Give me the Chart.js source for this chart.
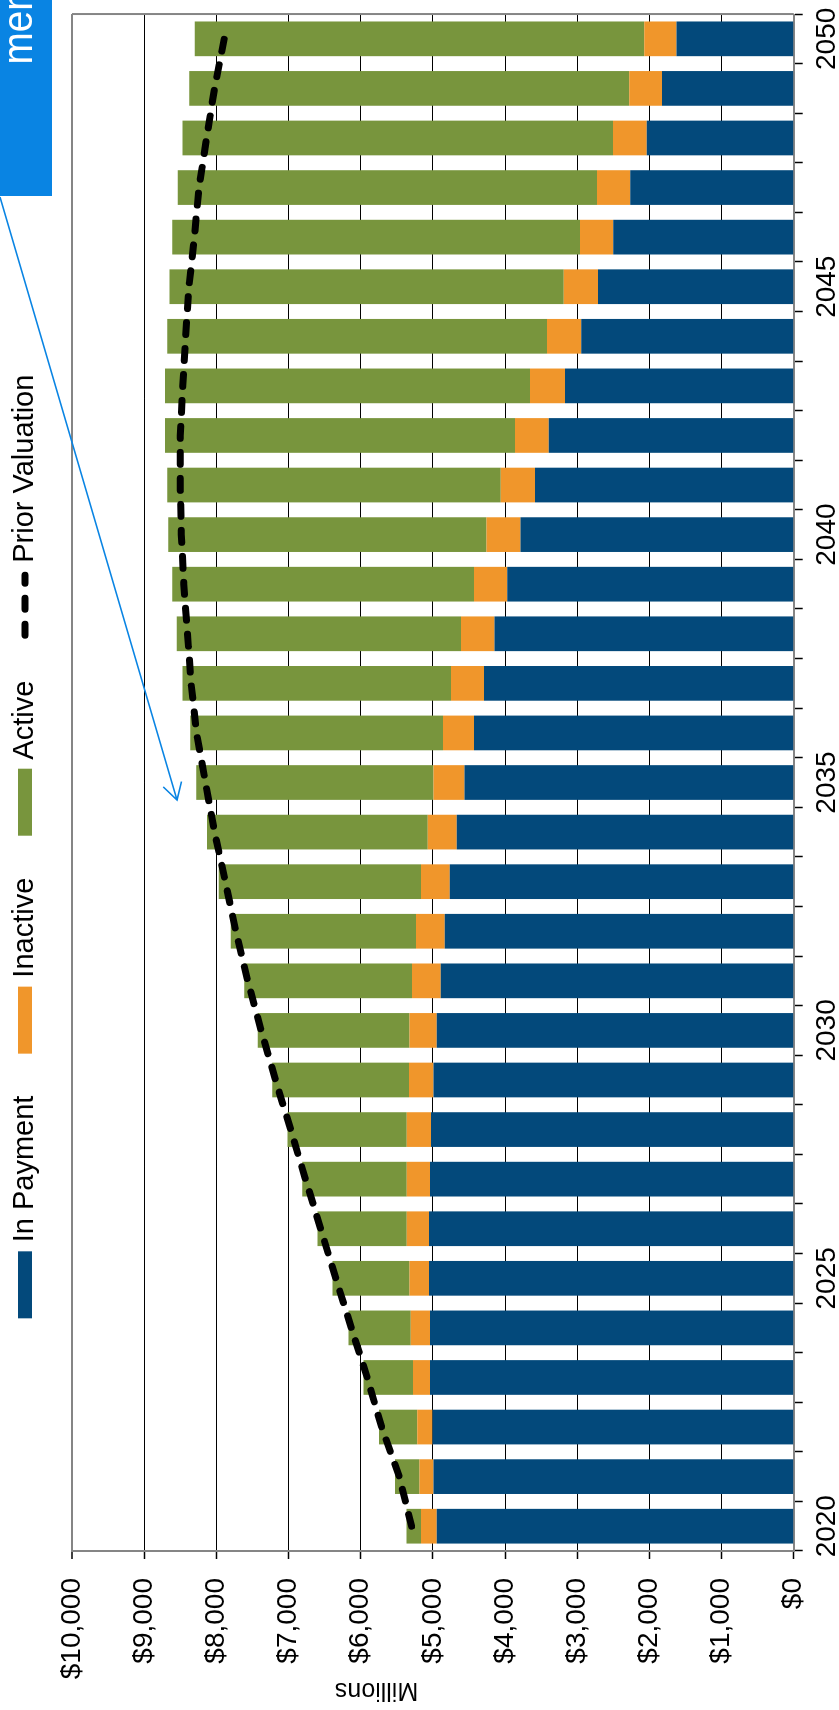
<!DOCTYPE html>
<html>
<head>
<meta charset="utf-8">
<title>Projected liabilities</title>
<script src="https://cdn.jsdelivr.net/npm/chart.js@4.4.1/dist/chart.umd.min.js"></script>
<style>
  html, body { margin: 0; padding: 0; background: #fff; overflow: hidden; }
  body { width: 839px; height: 1710px; position: relative; }
  /* the chart is laid out landscape and turned a quarter turn anticlockwise */
  #wrap {
    position: absolute; left: 0; top: 0;
    width: 1710px; height: 839px;
    transform-origin: 0 0;
    transform: translate(0, 1710px) rotate(-90deg);
  }
  canvas { display: block; width: 1710px; height: 839px; }
</style>
</head>
<body>
<div id="wrap"><canvas id="chart" width="1710" height="839"></canvas></div>
<script>
// Projection years
const years = [2020, 2021, 2022, 2023, 2024, 2025, 2026, 2027, 2028, 2029,
               2030, 2031, 2032, 2033, 2034, 2035, 2036, 2037, 2038, 2039,
               2040, 2041, 2042, 2043, 2044, 2045, 2046, 2047, 2048, 2049, 2050];

// Year labels shown on the category axis (every fifth year)
const yearTickLabels = ['2020', '', '', '', '', '2025', '', '', '', '', '2030', '', '', '', '',
                        '2035', '', '', '', '', '2040', '', '', '', '', '2045', '', '', '', '', '2050'];

// Value axis labels, $ millions
const valueTickLabels = ['$0', '$1,000', '$2,000', '$3,000', '$4,000', '$5,000',
                         '$6,000', '$7,000', '$8,000', '$9,000', '$10,000'];

// Liability by member status, $ millions
const inPayment = [4945, 4990, 5005, 5040, 5040, 5055, 5055, 5040, 5025, 4990,
                   4945, 4890, 4835, 4765, 4670, 4560, 4430, 4290, 4145, 3970,
                   3785, 3585, 3395, 3170, 2945, 2710, 2500, 2265, 2035, 1825, 1625];
const inactive  = [220, 195, 210, 235, 265, 270, 305, 320, 335, 340,
                   380, 400, 400, 400, 400, 430, 430, 460, 465, 460,
                   470, 475, 465, 485, 475, 475, 460, 460, 470, 455, 445];
const active    = [200, 340, 530, 685, 865, 1065, 1240, 1450, 1655, 1895,
                   2100, 2325, 2565, 2800, 3060, 3290, 3500, 3720, 3940, 4180,
                   4410, 4620, 4850, 5055, 5260, 5465, 5650, 5810, 5965, 6095, 6230];

// Total liability at the prior valuation, $ millions
const priorValuation = [5295, 5465, 5710, 5910, 6130, 6345, 6555, 6765, 6970, 7180,
                        7380, 7565, 7730, 7875, 8025, 8150, 8275, 8350, 8400, 8450,
                        8485, 8500, 8500, 8465, 8425, 8380, 8305, 8240, 8135, 8025, 7890];

const FONT = "'Liberation Sans', Arial, Helvetica, sans-serif";
const BLUE = '#03497b';
const ORANGE = '#f0962b';
const GREEN = '#78953d';
const FRAME = '#858585';

Chart.defaults.font.family = FONT;
Chart.defaults.color = '#000';

// Legend, axis title, frame edge and the callout drawn on the canvas
const decor = {
  id: 'decor',
  beforeDatasetsDraw(chart) {
    const { ctx, chartArea: a } = chart;
    ctx.save();
    ctx.strokeStyle = FRAME;
    ctx.lineWidth = 2;
    ctx.beginPath();
    ctx.moveTo(a.right, a.top);
    ctx.lineTo(a.right, a.bottom);
    ctx.stroke();
    ctx.restore();
  },
  afterDraw(chart) {
    const { ctx } = chart;
    ctx.save();

    // value axis title
    ctx.font = '25px ' + FONT;
    ctx.fillStyle = '#000';
    ctx.textAlign = 'center';
    ctx.textBaseline = 'middle';
    ctx.save();
    ctx.translate(20.5, 376.5);
    ctx.rotate(-Math.PI / 2);
    ctx.fillText('Millions', 0, 0);
    ctx.restore();

    // legend
    const ds = chart.data.datasets;
    const items = [ds[1], ds[2], ds[3], ds[0]];
    const keyW = 67, keyH = 14, gap = 9, itemGap = 42, cy = 25;
    ctx.font = '29px ' + FONT;
    ctx.textAlign = 'left';
    const widths = items.map(d => keyW + gap + ctx.measureText(d.label).width);
    const total = widths.reduce((s, w) => s + w, 0) + itemGap * (items.length - 1);
    let x = 863.5 - total / 2;
    items.forEach((d, i) => {
      if (d.type === 'line') {
        ctx.save();
        ctx.strokeStyle = d.borderColor;
        ctx.lineWidth = d.borderWidth;
        ctx.lineCap = 'round';
        ctx.setLineDash([11, 15]);
        ctx.beginPath();
        ctx.moveTo(x + 3.5, cy);
        ctx.lineTo(x + keyW - 3.5, cy);
        ctx.stroke();
        ctx.restore();
      } else {
        ctx.fillStyle = d.backgroundColor;
        ctx.fillRect(x, cy - keyH / 2, keyW, keyH);
      }
      ctx.fillStyle = '#000';
      ctx.fillText(d.label, x + keyW + gap, cy);
      x += widths[i] + itemGap;
    });

    // callout box with pointer
    const CALLOUT = '#0984e3';
    ctx.fillStyle = CALLOUT;
    ctx.fillRect(1514, 0, 200, 52);
    ctx.save();
    ctx.beginPath();
    ctx.rect(1514, 0, 200, 52);
    ctx.clip();
    ctx.fillStyle = '#fff';
    ctx.textAlign = 'left';
    ctx.textBaseline = 'alphabetic';
    ctx.font = '42px ' + FONT;
    ctx.translate(1645.5, 32);
    ctx.scale(0.92, 1);
    ctx.fillText('membership', 0, 0);
    ctx.restore();

    const x0 = 1513, y0 = 0, x1 = 910, y1 = 177;
    ctx.strokeStyle = CALLOUT;
    ctx.lineWidth = 1.6;
    ctx.beginPath();
    ctx.moveTo(x0, y0);
    ctx.lineTo(x1, y1);
    const ang = Math.atan2(y0 - y1, x0 - x1);
    const head = 19, spread = Math.PI / 6;
    ctx.moveTo(x1 + head * Math.cos(ang - spread), y1 + head * Math.sin(ang - spread));
    ctx.lineTo(x1, y1);
    ctx.lineTo(x1 + head * Math.cos(ang + spread), y1 + head * Math.sin(ang + spread));
    ctx.stroke();

    ctx.restore();
  }
};

new Chart(document.getElementById('chart'), {
  type: 'bar',
  data: {
    labels: years,
    datasets: [
      {
        type: 'line',
        label: 'Prior Valuation',
        data: priorValuation,
        borderColor: '#000',
        borderWidth: 7,
        borderDash: [12, 14],
        borderCapStyle: 'round',
        pointRadius: 0,
        fill: false,
        tension: 0,
        order: 0
      },
      { label: 'In Payment', data: inPayment, backgroundColor: BLUE, order: 1 },
      { label: 'Inactive', data: inactive, backgroundColor: ORANGE, order: 1 },
      { label: 'Active', data: active, backgroundColor: GREEN, order: 1 }
    ]
  },
  options: {
    responsive: false,
    animation: false,
    devicePixelRatio: 1,
    layout: { padding: { top: 72, right: 11, bottom: 0, left: 0 } },
    datasets: { bar: { categoryPercentage: 1, barPercentage: 0.7 } },
    plugins: { legend: { display: false }, tooltip: { enabled: false } },
    scales: {
      x: {
        stacked: true,
        offset: true,
        grid: { offset: true, drawOnChartArea: false, tickLength: 9, color: '#000', tickWidth: 1.5 },
        border: { color: FRAME, width: 2 },
        ticks: {
          autoSkip: false, maxRotation: 0, minRotation: 0, padding: 7.5,
          font: { size: 28 }, color: '#000',
          callback: (v, i) => yearTickLabels[i]
        },
        afterFit: s => { s.height = 45.3; }
      },
      y: {
        stacked: true,
        min: 0,
        max: 10000,
        grid: {
          color: c => (c.tick && c.tick.value === 10000 ? FRAME : '#000'),
          lineWidth: c => (c.tick && c.tick.value === 10000 ? 2 : 1),
          tickColor: '#000', tickWidth: 1.5, tickLength: 8
        },
        border: { color: FRAME, width: 2 },
        ticks: {
          stepSize: 1000, padding: 19, font: { size: 28 }, color: '#000',
          callback: (v, i) => valueTickLabels[i]
        },
        afterFit: s => { s.width = 159; }
      }
    }
  },
  plugins: [decor]
});
</script>
</body>
</html>
